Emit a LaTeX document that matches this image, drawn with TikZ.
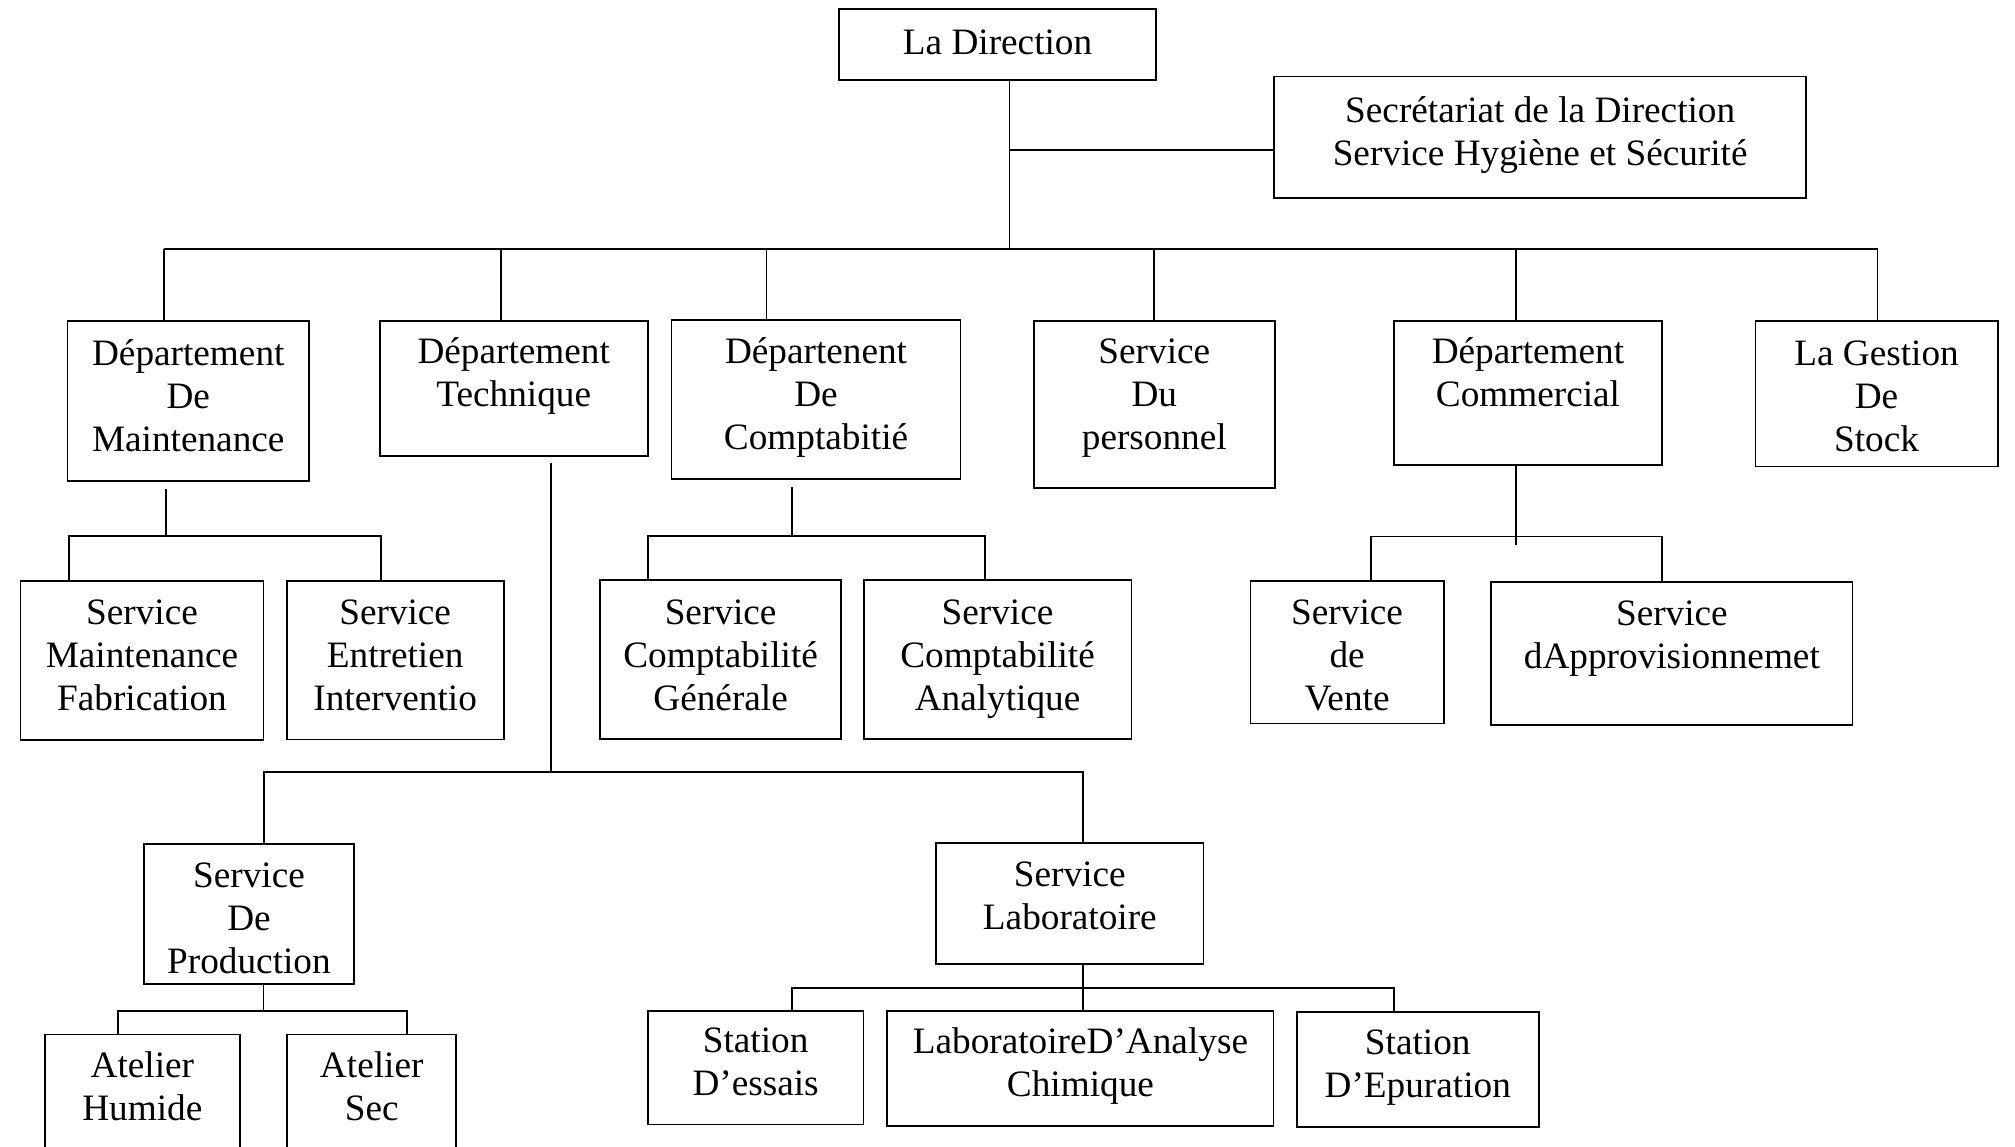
\documentclass[tikz,border=0pt]{standalone}
\usepackage{fontspec}
\setmainfont{Liberation Serif}

\tikzset{
    unit/.style={draw, line width=0.8pt, align=center, inner sep=0pt, anchor=base,
        font=\fontsize{16.5}{19}\selectfont},
    wire/.style={line width=0.8pt}
}

\begin{document}
\begin{tikzpicture}[x=0.02cm, y=-0.02cm]
    \useasboundingbox (0,0) rectangle (1568,892);
    \clip (0,0) rectangle (1568,892);

        \node[unit, minimum width=4.93cm, text height=0.71cm, text depth=0.40cm] (dir) at (776.25,42.5){La Direction};
        \node[unit, minimum width=8.28cm, text height=1.379cm, text depth=0.511cm] (secr) at (1198.5,128.44){Secrétariat de la Direction\\Service Hygiène et Sécurité};

        \node[unit, minimum width=3.76cm, text height=2.028cm, text depth=0.452cm] (maint) at (146.5,351.4){Département\\De\\Maintenance};
        \node[unit, minimum width=4.17cm, text height=1.339cm, text depth=0.771cm] (tech) at (399.75,316.44){Département\\Technique};
        \node[unit, minimum width=4.50cm, text height=2.018cm, text depth=0.462cm] (compta) at (635,349.9){Départenent\\De\\Comptabitié};
        \node[unit, minimum width=3.75cm, text height=2.008cm, text depth=0.592cm] (perso) at (898.25,349.9){Service\\Du\\personnel};
        \node[unit, minimum width=4.16cm, text height=1.339cm, text depth=0.911cm] (comm) at (1189,316.44){Département\\Commercial};
        \node[unit, minimum width=3.77cm, text height=2.028cm, text depth=0.232cm] (stock) at (1460.25,351.4){La Gestion\\De\\Stock};

        \node[unit, minimum width=3.78cm, text height=2.018cm, text depth=0.462cm] (fab) at (110.5,552.9){Service\\Maintenance\\Fabrication};
        \node[unit, minimum width=3.38cm, text height=2.018cm, text depth=0.452cm] (entr) at (307.5,552.9){Service\\Entretien\\Interventio};
        \node[unit, minimum width=3.75cm, text height=2.038cm, text depth=0.442cm] (gen) at (560.75,552.9){Service\\Comptabilité\\Générale};
        \node[unit, minimum width=4.17cm, text height=2.038cm, text depth=0.442cm] (ana) at (776.25,552.9){Service\\Comptabilité\\Analytique};
        \node[unit, minimum width=3.01cm, text height=2.018cm, text depth=0.202cm] (vente) at (1048.25,552.9){Service\\de\\Vente};
        \node[unit, minimum width=5.62cm, text height=1.339cm, text depth=0.881cm] (appro) at (1301,519.94){Service\\dApprovisionnemet};

        \node[unit, minimum width=3.27cm, text height=2.018cm, text depth=0.162cm] (prod) at (193.75,757.4){Service\\De\\Production};
        \node[unit, minimum width=4.16cm, text height=1.349cm, text depth=0.531cm] (labo) at (832.5,723.44){Service\\Laboratoire};

        \node[unit, minimum width=3.03cm, text height=1.339cm, text depth=0.761cm] (humide) at (110.75,871.94){Atelier\\Humide};
        \node[unit, minimum width=2.63cm, text height=1.339cm, text depth=0.761cm] (sec) at (289.25,871.94){Atelier\\Sec};
        \node[unit, minimum width=3.36cm, text height=1.319cm, text depth=0.451cm] (essais) at (588,852.44){Station\\D’essais};
        \node[unit, minimum width=6.01cm, text height=1.319cm, text depth=0.461cm] (analyse) at (840.75,852.94){LaboratoireD’Analyse\\Chimique};
        \node[unit, minimum width=3.77cm, text height=1.329cm, text depth=0.461cm] (epur) at (1103.25,853.94){Station\\D’Epuration};

    % direction
        \coordinate (j0) at (785.5,117);
        \coordinate (b0) at (785.5,193.5);
        \draw[wire] (785.5,0 |- dir.south) -- (b0);
        \draw[wire] (j0) -- (j0 -| secr.west);
        \draw[wire] (127.5,193.5) -- (1461,193.5);
        \foreach \x/\n in {127.5/maint, 390/tech, 596.5/compta, 898/perso, 1179.5/comm, 1461/stock}
            \draw[wire] (\x,193.5) -- (\x,0 |- \n.north);

    % maintenance
        \draw[wire] (129,380.5) -- (129,417);
        \draw[wire] (53.5,0 |- fab.north) |- (296.5,417) -- (296.5,0 |- entr.north);

    % comptabilite
        \draw[wire] (616,379) -- (616,417);
        \draw[wire] (504,0 |- gen.north) |- (766.5,417) -- (766.5,0 |- ana.north);

    % commercial
        \draw[wire] (1179.5,0 |- comm.south) -- (1179.5,424);
        \draw[wire] (1067,0 |- vente.north) |- (1293,417.5) -- (1293,0 |- appro.north);

    % technique
        \draw[wire] (429,360.5) -- (429,600.5);
        \draw[wire] (205.5,0 |- prod.north) |- (843,600.5) -- (843,0 |- labo.north);

    % production
        \draw[wire] (205,0 |- prod.south) -- (205,787);
        \draw[wire] (92,0 |- humide.north) |- (316.5,787) -- (316.5,0 |- sec.north);

    % laboratoire
        \draw[wire] (842.5,0 |- labo.south) -- (842.5,0 |- analyse.north);
        \draw[wire] (616.5,0 |- essais.north) |- (1085,769) -- (1085,0 |- epur.north);

\end{tikzpicture}
\end{document}
